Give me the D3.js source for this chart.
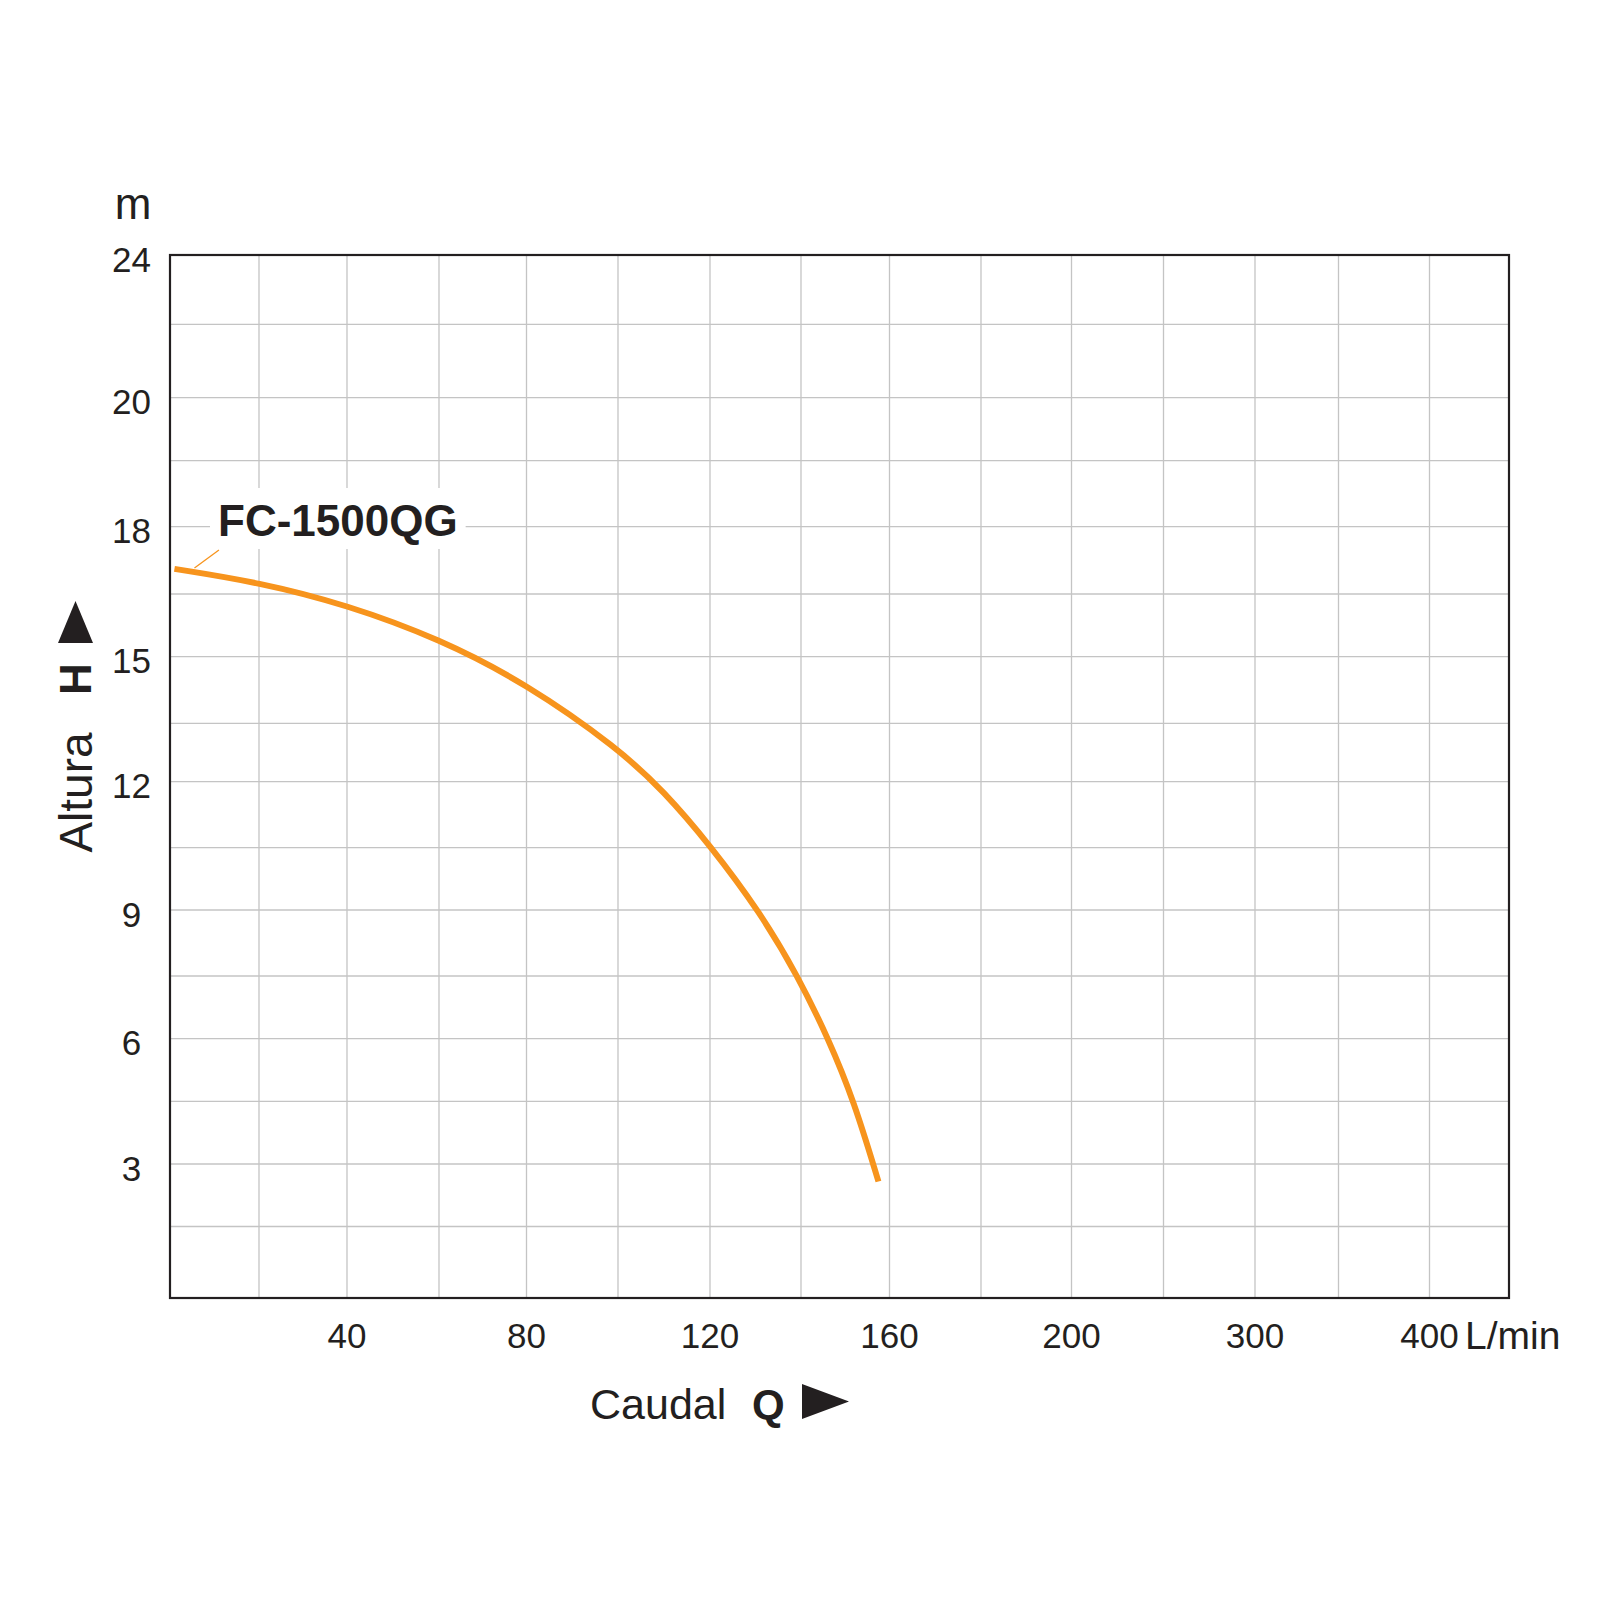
<!DOCTYPE html>
<html>
<head>
<meta charset="utf-8">
<script src="https://cdn.jsdelivr.net/npm/d3@7"></script>
<style>
    body { margin: 0; background: #ffffff; }
    svg text { font-family: "Liberation Sans", Arial, Helvetica, sans-serif; fill: #231f20; }
</style>
</head>
<body>
<div id="chart"></div>
<script>
// pump curve FC-1500QG
const flowQ = [1, 20, 40, 60, 80, 100, 110, 120, 131, 139.3, 146.2, 152, 157.5];
const headH = [17.06, 16.76, 16.24, 15.43, 14.39, 12.86, 11.78, 10.56, 8.95, 7.5, 6.0, 4.5, 2.58];

const xTickValues = [40, 80, 120, 160, 200, 300, 400];
const xGridValues = [20, 40, 60, 80, 100, 120, 140, 160, 180, 200, 250, 300, 350, 400];
const yTickValues = [3, 6, 9, 12, 15, 18, 20, 24];
const yGridValues = [1.5, 3, 4.5, 6, 7.5, 9, 10.5, 12, 13.5, 15, 16.5, 18, 19, 20, 22];

const seriesName = "FC-1500QG";
const orange = "#f7941d";

const svg = d3.select("#chart").append("svg")
    .attr("width", 1600)
    .attr("height", 1600)
;

// the printed axes are not evenly spaced, so both scales are piecewise linear
const xScale = d3.scaleLinear()
    .domain([0, 20, 40, 60, 80, 100, 120, 140, 160, 180, 200, 250, 300, 350, 400, 450])
    .range([170, 259, 347, 439, 526.5, 618, 710, 801, 889.5, 981, 1071.5, 1163.5, 1255, 1338.5, 1429.5, 1509]);
const yScale = d3.scaleLinear()
    .domain([0, 1.5, 3, 4.5, 6, 7.5, 9, 10.5, 12, 13.5, 15, 16.5, 18, 19, 20, 22, 24])
    .range([1298, 1226.5, 1164, 1101.3, 1038.7, 976, 910, 847.7, 781.7, 723.3, 656.7, 594, 526.7, 460.7, 397.7, 324.3, 255]);

const x0 = xScale(0), x1 = xScale(450);
const y0 = yScale(0), y1 = yScale(24);

// grid
const gridG = svg.append("g").attr("class", "gridG");
gridG.selectAll(".vGrid")
    .data(xGridValues)
    .join("line")
    .attr("class", "vGrid")
    .attr("x1", d => xScale(d)).attr("x2", d => xScale(d))
    .attr("y1", y1).attr("y2", y0)
    .attr("stroke", "#c4c4c4")
    .attr("stroke-width", 1.3)
;
gridG.selectAll(".hGrid")
    .data(yGridValues)
    .join("line")
    .attr("class", "hGrid")
    .attr("x1", x0).attr("x2", x1)
    .attr("y1", d => yScale(d)).attr("y2", d => yScale(d))
    .attr("stroke", "#c4c4c4")
    .attr("stroke-width", 1.3)
;

// frame
svg.append("rect")
    .attr("x", x0).attr("y", y1)
    .attr("width", x1 - x0).attr("height", y0 - y1)
    .attr("fill", "none")
    .attr("stroke", "#231f20")
    .attr("stroke-width", 2.2)
;

// tick labels
svg.selectAll(".yTick")
    .data(yTickValues)
    .join("text")
    .attr("class", "yTick")
    .attr("x", 131.5)
    .attr("y", d => yScale(d) + 16.6)
    .attr("text-anchor", "middle")
    .attr("font-size", 35)
    .text(d => d)
;
svg.selectAll(".xTick")
    .data(xTickValues)
    .join("text")
    .attr("class", "xTick")
    .attr("x", d => xScale(d))
    .attr("y", 1348)
    .attr("text-anchor", "middle")
    .attr("font-size", 35)
    .text(d => d)
;

// units
svg.append("text")
    .attr("x", 133).attr("y", 219)
    .attr("text-anchor", "middle")
    .attr("font-size", 44)
    .text("m")
;
svg.append("text")
    .attr("x", 1465).attr("y", 1349)
    .attr("font-size", 39)
    .text("L/min")
;

// y axis title
svg.append("text")
    .attr("transform", "translate(92,792.5) rotate(-90)")
    .attr("text-anchor", "middle")
    .attr("font-size", 46)
    .text("Altura")
;
svg.append("text")
    .attr("transform", "translate(91,679) rotate(-90)")
    .attr("text-anchor", "middle")
    .attr("font-size", 44)
    .attr("font-weight", "bold")
    .text("H")
;
svg.append("path")
    .attr("d", "M75.5,601L93,643L58,643Z")
    .attr("fill", "#231f20")
;

// x axis title
svg.append("text")
    .attr("x", 590).attr("y", 1419)
    .attr("font-size", 43)
    .text("Caudal")
;
svg.append("text")
    .attr("x", 752).attr("y", 1419)
    .attr("font-size", 42)
    .attr("font-weight", "bold")
    .text("Q")
;
svg.append("path")
    .attr("d", "M802,1384L849,1401.5L802,1419Z")
    .attr("fill", "#231f20")
;

// curve (b-spline evens out the reading noise between points)
const curvePoints = flowQ.map((q, i) => [q, headH[i]]);
const line = d3.line()
    .x(d => xScale(d[0]))
    .y(d => yScale(d[1]))
    .curve(d3.curveBasis)
;
svg.append("path")
    .datum(curvePoints)
    .attr("d", line)
    .attr("fill", "none")
    .attr("stroke", orange)
    .attr("stroke-width", 6)
;

// series label with white backing that breaks the grid
const labelG = svg.append("g").attr("class", "labelG");
const labelBg = labelG.append("rect").attr("fill", "#ffffff");
const labelText = labelG.append("text")
    .attr("x", 218).attr("y", 536)
    .attr("font-size", 44)
    .attr("font-weight", "bold")
    .text(seriesName)
;
const bb = labelText.node().getBBox();
labelBg
    .attr("x", bb.x - 8).attr("y", bb.y - 8)
    .attr("width", bb.width + 16).attr("height", bb.height + 12)
;
svg.append("line")
    .attr("x1", xScale(5.5)).attr("y1", yScale(17.08))
    .attr("x2", xScale(11)).attr("y2", yScale(17.48))
    .attr("stroke", orange)
    .attr("stroke-width", 1.3)
;
</script>
</body>
</html>
